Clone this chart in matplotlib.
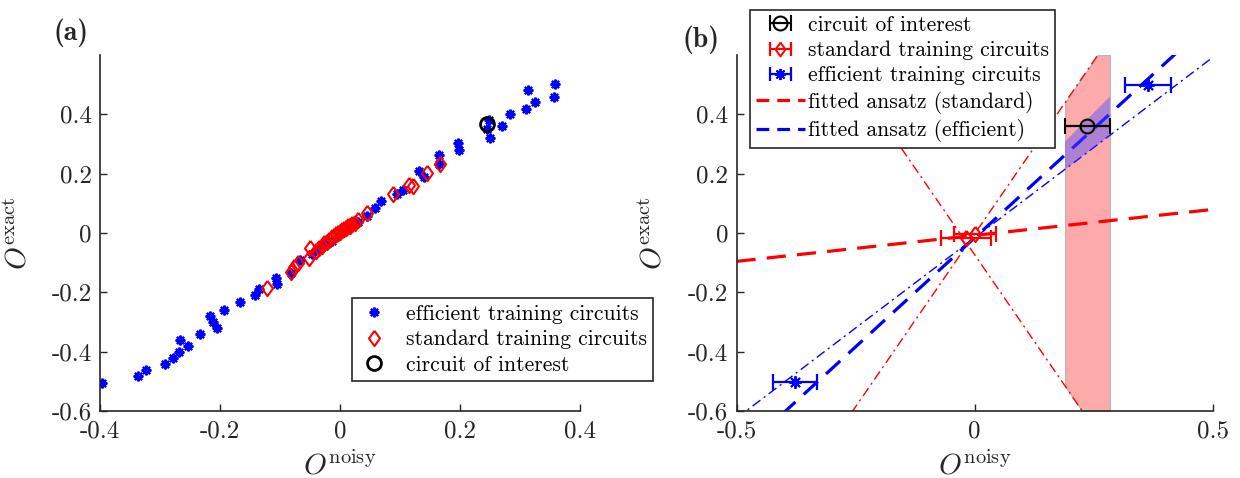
import numpy as np
import matplotlib.pyplot as plt
from matplotlib.lines import Line2D

plt.rcParams['font.family'] = 'cmr10'
plt.rcParams['mathtext.fontset'] = 'cm'
plt.rcParams['axes.unicode_minus'] = False

# --- panel (a): training data ---
eff_x = [-0.396, -0.336, -0.323, -0.291, -0.279, -0.269, -0.266, -0.253, -0.233, -0.217,
         -0.211, -0.205, -0.194, -0.167, -0.142, -0.135, -0.107, -0.105, -0.082, -0.066,
         -0.046, -0.026, -0.013, 0.007, 0.030, 0.046, 0.059, 0.069, 0.095, 0.105,
         0.132, 0.141, 0.166, 0.165, 0.197, 0.199, 0.249, 0.245, 0.250, 0.271,
         0.284, 0.311, 0.313, 0.325, 0.357, 0.359, -0.035, -0.020, 0.012, 0.020]
eff_y = [-0.504, -0.481, -0.460, -0.442, -0.420, -0.400, -0.360, -0.381, -0.339, -0.279,
         -0.299, -0.321, -0.261, -0.232, -0.210, -0.190, -0.150, -0.172, -0.135, -0.090,
         -0.070, -0.045, -0.028, 0.011, 0.036, 0.056, 0.085, 0.107, 0.130, 0.146,
         0.208, 0.190, 0.263, 0.234, 0.302, 0.279, 0.381, 0.349, 0.321, 0.361,
         0.400, 0.419, 0.481, 0.442, 0.460, 0.501, -0.055, -0.035, 0.020, 0.030]

std_x = [-0.122, -0.082, -0.076, -0.069, -0.049, -0.051, -0.040, -0.035, -0.030, -0.026,
         -0.022, -0.018, -0.013, -0.010, -0.007, -0.003, 0.000, 0.004, 0.007, 0.010,
         0.013, 0.017, 0.020, 0.025, 0.030, 0.045, 0.089, 0.115, 0.122, 0.145, 0.167]
std_y = [-0.186, -0.130, -0.113, -0.101, -0.051, -0.085, -0.062, -0.050, -0.045, -0.034,
         -0.030, -0.023, -0.015, -0.011, -0.004, 0.000, 0.005, 0.010, 0.013, 0.017,
         0.022, 0.025, 0.032, 0.035, 0.045, 0.068, 0.132, 0.163, 0.158, 0.203, 0.233]

coi_x = [0.245]
coi_y = [0.366]

# --- panel (b): averaged points with error bars ---
coi_bx, coi_by, coi_berr = [0.237], [0.362], [0.047]
std_bx = [0.000, -0.018]
std_by = [-0.002, -0.018]
std_berr = [0.044, 0.053]
eff_bx = [-0.377, 0.364]
eff_by = [-0.502, 0.500]
eff_berr = [0.046, 0.049]

# fitted lines (slope, intercept)
fit_std = (0.175, -0.008)
fit_eff = (1.47, -0.016)
std_hi = (2.33, -0.003)
std_lo = (-2.33, -0.073)
eff_hi = (1.60, 0.005)
eff_lo = (1.216, -0.016)

yticks = [-0.6, -0.4, -0.2, 0, 0.2, 0.4]
ytick_labels = ['-0.6', '-0.4', '-0.2', '0', '0.2', '0.4']
xticks_a = [-0.4, -0.2, 0, 0.2, 0.4]
xtick_labels_a = ['-0.4', '-0.2', '0', '0.2', '0.4']
xticks_b = [-0.5, 0, 0.5]
xtick_labels_b = ['-0.5', '0', '0.5']

diamond = [(0, 1), (0.72, 0), (0, -1), (-0.72, 0), (0, 1)]
spine_col = '0.15'


def style_axes(ax, xt, xl, ylab_x):
    ax.set_ylim(-0.6, 0.6)
    ax.set_yticks(yticks)
    ax.set_yticklabels(ytick_labels)
    ax.set_xticks(xt)
    ax.set_xticklabels(xl)
    for s in ['top', 'right']:
        ax.spines[s].set_visible(False)
    for s in ['left', 'bottom']:
        ax.spines[s].set_color(spine_col)
        ax.spines[s].set_linewidth(1.2)
    ax.tick_params(direction='in', length=5, width=1, colors=spine_col,
                   labelsize=18, pad=6)
    ax.tick_params(axis='x', pad=7)
    ax.set_xlabel(r'$O^{\mathrm{noisy}}$', fontsize=21, color=spine_col)
    ax.set_ylabel(r'$O^{\mathrm{exact}}$', fontsize=21, color=spine_col)
    ax.xaxis.set_label_coords(0.5, -0.112)
    ax.yaxis.set_label_coords(ylab_x, 0.5)


def line(p, x):
    return p[0] * np.asarray(x) + p[1]


fig = plt.figure(figsize=(12.4, 4.78), dpi=100)
ax1 = fig.add_axes([0.0806, 0.140, 0.387, 0.745])
ax2 = fig.add_axes([0.594, 0.140, 0.384, 0.745])

# ---- (a) ----
ax1.plot(eff_x, eff_y, linestyle='none', marker=(8, 2, 0), ms=7, mew=1.6,
         color='blue', label='efficient training circuits')
ax1.plot(std_x, std_y, linestyle='none', marker=diamond, ms=11, mew=1.5,
         mfc='none', mec='red', label='standard training circuits')
ax1.plot(coi_x, coi_y, linestyle='none', marker='o', ms=10, mew=2,
         mfc='none', mec='black', label='circuit of interest')
ax1.set_xlim(-0.4, 0.4)
style_axes(ax1, xticks_a, xtick_labels_a, -0.14)
leg1 = ax1.legend(loc='upper left', bbox_to_anchor=(0.284, 0.377),
                  bbox_transform=fig.transFigure, borderaxespad=0,
                  fontsize=15.5, fancybox=False, framealpha=1, edgecolor=spine_col,
                  handlelength=1.4, handletextpad=0.8, labelspacing=0.28,
                  borderpad=0.3, numpoints=1)
leg1.get_frame().set_linewidth(1.2)
fig.text(0.057, 0.931, '(a)', fontsize=20, family='cmb10', ha='center', va='center',
         color=spine_col)

# ---- (b) ----
xs = np.linspace(-0.5, 0.5, 200)
ax2.plot(xs, line(std_hi, xs), color='red', lw=1, ls=(0, (7, 3, 1.5, 3)))
ax2.plot(xs, line(std_lo, xs), color='red', lw=1, ls=(0, (7, 3, 1.5, 3)))
ax2.plot(xs, line(eff_lo, xs), color='blue', lw=1, ls=(0, (7, 3, 1.5, 3)))

xb = np.linspace(coi_bx[0] - coi_berr[0], coi_bx[0] + coi_berr[0], 100)
ax2.fill_between(xb, np.clip(line(std_lo, xb), -0.6, 0.6), np.clip(line(std_hi, xb), -0.6, 0.6),
                 facecolor='#fcaaaa', edgecolor='0.72', lw=1, zorder=1.5)

ax2.plot(xs, line(fit_std, xs), color='red', lw=2.3, ls=(0, (6, 3.5)),
         label='fitted ansatz (standard)', zorder=2)
ax2.plot(xs, line(fit_eff, xs), color='blue', lw=2.3, ls=(0, (6, 3.5)),
         label='fitted ansatz (efficient)', zorder=2)

ax2.fill_between(xb, line(eff_lo, xb), line(eff_hi, xb), facecolor=(0.3, 0.3, 1.0),
                 alpha=0.45, edgecolor='none', zorder=2.5)

coi_h = ax2.errorbar(coi_bx, coi_by, xerr=coi_berr, fmt='o', ms=10, mfc='none', mec='black',
                     mew=1.5, color='black', elinewidth=1.6, capsize=6, capthick=1.6,
                     zorder=4)
ax2.errorbar(std_bx, std_by, xerr=std_berr, fmt='none', color='red', elinewidth=1.6,
             capsize=6, capthick=1.6, zorder=3)
ax2.plot(std_bx, std_by, linestyle='none', marker=diamond, ms=11, mew=1.5,
         mfc='none', mec='red', zorder=3)
ax2.errorbar(eff_bx, eff_by, xerr=eff_berr, fmt='none', color='blue', elinewidth=1.6,
             capsize=6, capthick=1.6, zorder=3)
ax2.plot(eff_bx, eff_by, linestyle='none', marker=(8, 2, 0), ms=9, mew=1.4,
         color='blue', zorder=3)

# legend proxies for the error-bar entries
eb_std = ax2.errorbar([np.nan], [np.nan], xerr=[0.01], fmt='none', color='red',
                      elinewidth=1.6, capsize=5, capthick=1.6)
eb_eff = ax2.errorbar([np.nan], [np.nan], xerr=[0.01], fmt='none', color='blue',
                      elinewidth=1.6, capsize=5, capthick=1.6)
d_std = Line2D([], [], linestyle='none', marker=diamond, ms=10, mew=1.4, mfc='none', mec='red')
s_eff = Line2D([], [], linestyle='none', marker=(8, 2, 0), ms=8, mew=1.4, color='blue')
l_std = Line2D([], [], color='red', lw=2.3, ls=(0, (4, 2.5)))
l_eff = Line2D([], [], color='blue', lw=2.3, ls=(0, (4, 2.5)))

ax2.set_xlim(-0.5, 0.5)
style_axes(ax2, xticks_b, xtick_labels_b, -0.145)
leg2 = ax2.legend([coi_h, (eb_std, d_std), (eb_eff, s_eff), l_std, l_eff],
                  ['circuit of interest', 'standard training circuits',
                   'efficient training circuits', 'fitted ansatz (standard)',
                   'fitted ansatz (efficient)'],
                  loc='upper left', bbox_to_anchor=(0.605, 0.979),
                  bbox_transform=fig.transFigure, borderaxespad=0,
                  fontsize=15.5, fancybox=False, framealpha=1, edgecolor=spine_col,
                  handlelength=2.3, handletextpad=0.15, labelspacing=0.26,
                  borderpad=0.25, numpoints=1)
leg2.get_frame().set_linewidth(1.2)
leg2.set_zorder(10)
fig.text(0.565, 0.916, '(b)', fontsize=20, family='cmb10', ha='center', va='center',
         color=spine_col)

fig.savefig('out.png', dpi=100)
